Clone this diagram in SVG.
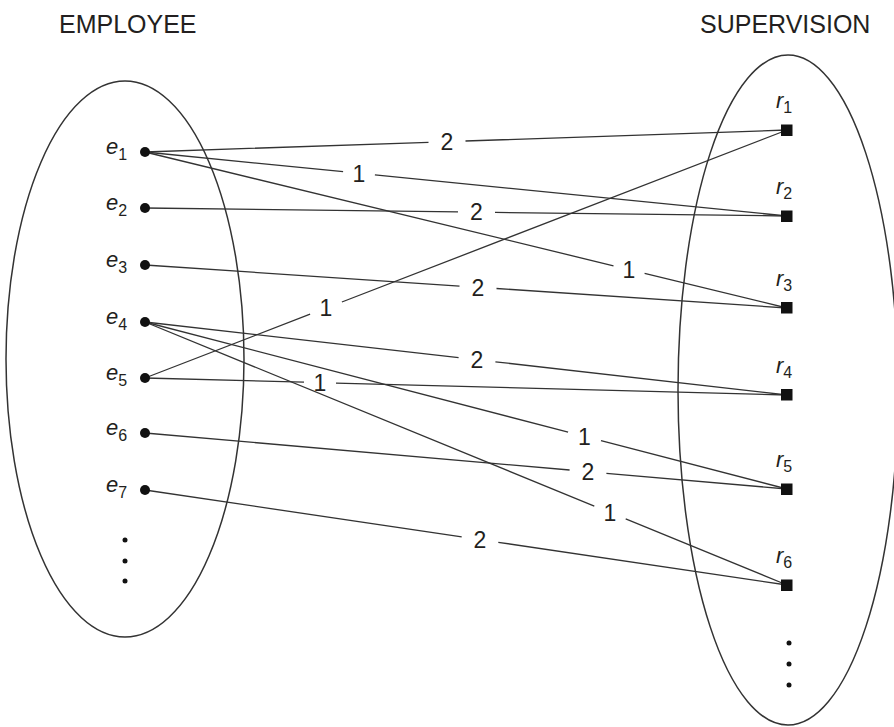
<svg xmlns="http://www.w3.org/2000/svg" width="894" height="727" viewBox="0 0 894 727">
<style>
.set{fill:none;stroke:#333;stroke-width:1.5}
.edge{fill:none;stroke:#333;stroke-width:1.3}
.title{font-family:"Liberation Sans",Arial,sans-serif;font-size:25px;fill:#231f20}
.lbl{font-family:"Liberation Sans",Arial,sans-serif;font-size:23px;fill:#231f20;text-anchor:middle}
.nl{font-family:"Liberation Sans",Arial,sans-serif;font-size:22px;font-style:italic;fill:#231f20}
.sub{font-size:16px;font-style:normal}
.dot{fill:#111}
.sq{fill:#111}
</style>
<rect width="894" height="727" fill="#fff"/>
<text class="title" x="59" y="33">EMPLOYEE</text>
<text class="title" x="700" y="33">SUPERVISION</text>
<ellipse id="employee-set" class="set" cx="125" cy="359" rx="119" ry="278"/>
<ellipse id="supervision-set" class="set" cx="788" cy="390" rx="110" ry="335"/>
<g id="connectors">
<path class="edge" d="M145,152 L428.5,142.3 M465.5,141.0 L787,130"/>
<text class="lbl" x="447" y="149.9">2</text>
<path class="edge" d="M145,152 L343.1,171.7 M374.9,174.9 L787,216"/>
<text class="lbl" x="359" y="181.6">1</text>
<path class="edge" d="M145,152 L613.5,265.8 M644.6,273.4 L787,308"/>
<text class="lbl" x="629" y="277.9">1</text>
<path class="edge" d="M145,208 L458,211.9 M495,212.4 L787,216"/>
<text class="lbl" x="476.5" y="220.4">2</text>
<path class="edge" d="M145,265 L459.5,286.1 M496.5,288.5 L787,308"/>
<text class="lbl" x="478" y="295.6">2</text>
<path class="edge" d="M145,378 L310.1,314.2 M341.9,302.0 L787,130"/>
<text class="lbl" x="326" y="316.4">1</text>
<path class="edge" d="M145,322 L458.6,357.7 M495.4,361.8 L787,395"/>
<text class="lbl" x="477" y="368.1">2</text>
<path class="edge" d="M145,378 L304,382.2 M336,383.1 L787,395"/>
<text class="lbl" x="320" y="390.9">1</text>
<path class="edge" d="M145,322 L568.1,432.1 M601,440.6 L787,489"/>
<text class="lbl" x="584.5" y="444.6">1</text>
<path class="edge" d="M145,433 L569.6,470.0 M606.4,473.3 L787,489"/>
<text class="lbl" x="588" y="479.9">2</text>
<path class="edge" d="M145,322 L594.3,506.1 M625.7,518.9 L787,585"/>
<text class="lbl" x="610" y="520.8">1</text>
<path class="edge" d="M145,490 L461.7,536.9 M498.3,542.3 L787,585"/>
<text class="lbl" x="480" y="547.9">2</text>
</g>
<g id="e1"><circle class="dot" cx="145" cy="152" r="5"/><text class="nl" x="106" y="154">e<tspan class="sub" dy="6">1</tspan></text></g>
<g id="e2"><circle class="dot" cx="145" cy="208" r="5"/><text class="nl" x="106" y="210">e<tspan class="sub" dy="6">2</tspan></text></g>
<g id="e3"><circle class="dot" cx="145" cy="265" r="5"/><text class="nl" x="106" y="267">e<tspan class="sub" dy="6">3</tspan></text></g>
<g id="e4"><circle class="dot" cx="145" cy="322" r="5"/><text class="nl" x="106" y="324">e<tspan class="sub" dy="6">4</tspan></text></g>
<g id="e5"><circle class="dot" cx="145" cy="378" r="5"/><text class="nl" x="106" y="380">e<tspan class="sub" dy="6">5</tspan></text></g>
<g id="e6"><circle class="dot" cx="145" cy="433" r="5"/><text class="nl" x="106" y="435">e<tspan class="sub" dy="6">6</tspan></text></g>
<g id="e7"><circle class="dot" cx="145" cy="490" r="5"/><text class="nl" x="106" y="492">e<tspan class="sub" dy="6">7</tspan></text></g>
<g id="e-more"><circle class="dot" cx="125" cy="540" r="2.5"/><circle class="dot" cx="125" cy="561" r="2.5"/><circle class="dot" cx="125" cy="581" r="2.5"/></g>
<g id="r1"><rect class="sq" x="781" y="124.5" width="11.5" height="11.5"/><text class="nl" x="776" y="108">r<tspan class="sub" dy="5">1</tspan></text></g>
<g id="r2"><rect class="sq" x="781" y="210.5" width="11.5" height="11.5"/><text class="nl" x="776" y="194">r<tspan class="sub" dy="5">2</tspan></text></g>
<g id="r3"><rect class="sq" x="781" y="302" width="11.5" height="11.5"/><text class="nl" x="776" y="286">r<tspan class="sub" dy="5">3</tspan></text></g>
<g id="r4"><rect class="sq" x="781" y="389" width="11.5" height="11.5"/><text class="nl" x="776" y="373">r<tspan class="sub" dy="5">4</tspan></text></g>
<g id="r5"><rect class="sq" x="781" y="483.5" width="11.5" height="11.5"/><text class="nl" x="776" y="467">r<tspan class="sub" dy="5">5</tspan></text></g>
<g id="r6"><rect class="sq" x="781" y="579.5" width="11.5" height="11.5"/><text class="nl" x="776" y="563">r<tspan class="sub" dy="5">6</tspan></text></g>
<g id="r-more"><circle class="dot" cx="789" cy="643" r="2.5"/><circle class="dot" cx="789" cy="664" r="2.5"/><circle class="dot" cx="789" cy="685" r="2.5"/></g>
</svg>
